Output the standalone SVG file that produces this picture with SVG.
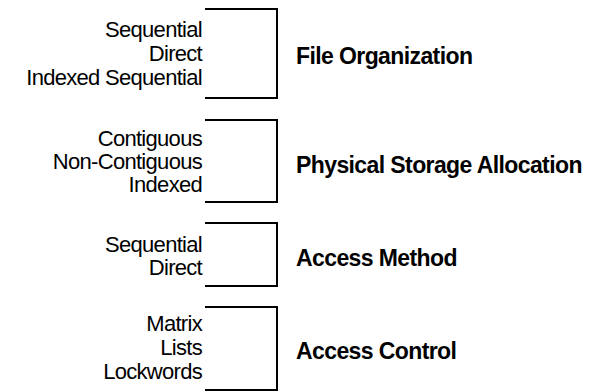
<svg xmlns="http://www.w3.org/2000/svg" width="591" height="392" viewBox="0 0 591 392">
<style>
.item{font-family:"Liberation Sans",Arial,sans-serif;font-size:22px;letter-spacing:-0.7px;fill:#000;text-anchor:end}
.label{font-family:"Liberation Sans",Arial,sans-serif;font-size:23px;letter-spacing:-0.6px;font-weight:bold;fill:#000}
.br{fill:none;stroke:#000;stroke-width:2}
</style>
<rect width="591" height="392" fill="#fff"/>
<g id="connectors">
<polyline class="br" points="205,9 277,9 277,98 205,98"/>
<polyline class="br" points="205,120 277,120 277,202 205,202"/>
<polyline class="br" points="205,223 277,223 277,286 205,286"/>
<polyline class="br" points="205,307 277,307 277,390 205,390"/>
</g>
<g id="file-organization">
<text class="item" x="202" y="37">Sequential</text>
<text class="item" x="202" y="61">Direct</text>
<text class="item" x="202" y="85">Indexed Sequential</text>
<text class="label" x="296" y="64">File Organization</text>
</g>
<g id="physical-storage-allocation">
<text class="item" x="202" y="146">Contiguous</text>
<text class="item" x="202" y="169">Non-Contiguous</text>
<text class="item" x="202" y="192">Indexed</text>
<text class="label" x="296" y="173">Physical Storage Allocation</text>
</g>
<g id="access-method">
<text class="item" x="202" y="252">Sequential</text>
<text class="item" x="202" y="275">Direct</text>
<text class="label" x="296" y="266">Access Method</text>
</g>
<g id="access-control">
<text class="item" x="202" y="331">Matrix</text>
<text class="item" x="202" y="355">Lists</text>
<text class="item" x="202" y="379">Lockwords</text>
<text class="label" x="296" y="359">Access Control</text>
</g>
</svg>
